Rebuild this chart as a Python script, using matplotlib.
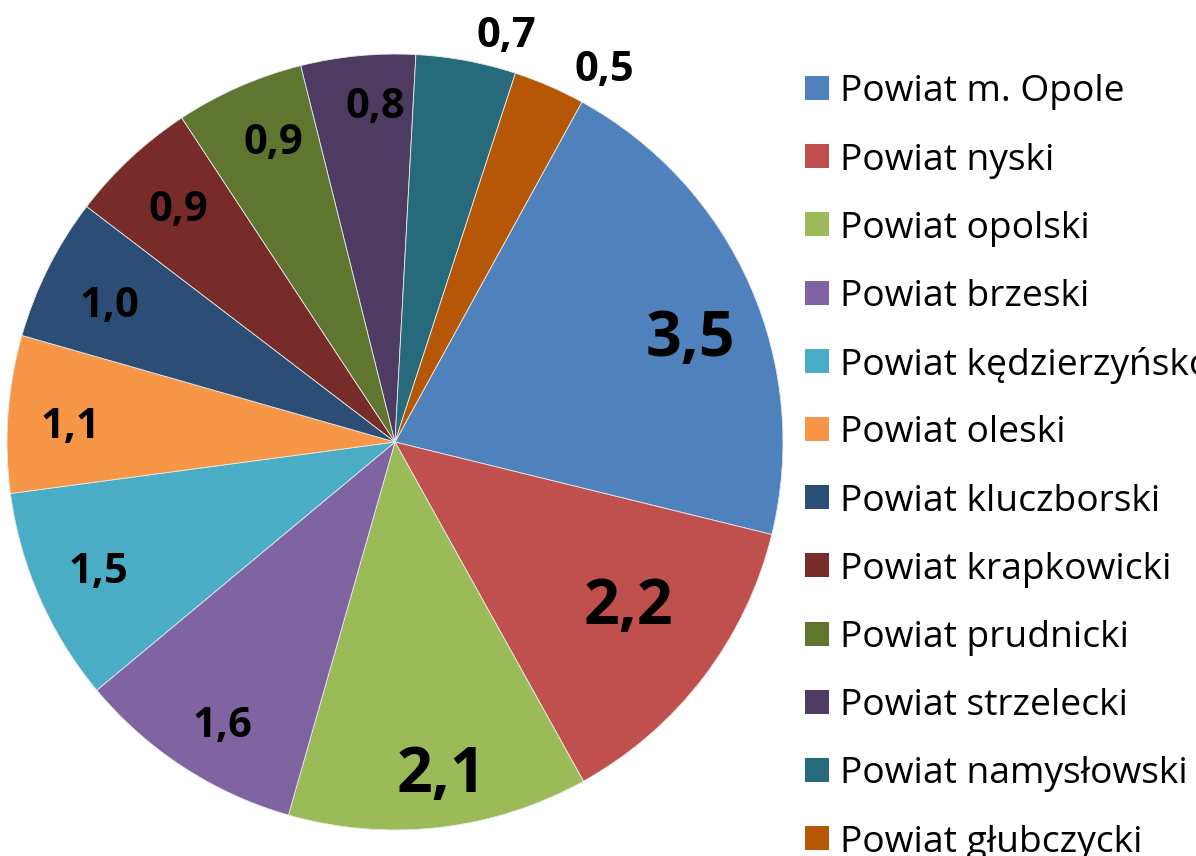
import matplotlib
matplotlib.use("Agg")
import matplotlib.pyplot as plt
import numpy as np
from matplotlib.patches import Rectangle

categories = ["Powiat m. Opole", "Powiat nyski", "Powiat opolski", "Powiat brzeski",
              "Powiat kędzierzyńsko-kozielski", "Powiat oleski", "Powiat kluczborski",
              "Powiat krapkowicki", "Powiat prudnicki", "Powiat strzelecki",
              "Powiat namysłowski", "Powiat głubczycki"]
values = [3.5, 2.2, 2.1, 1.6, 1.5, 1.1, 1.0, 0.9, 0.9, 0.8, 0.7, 0.5]
value_labels = ["3,5", "2,2", "2,1", "1,6", "1,5", "1,1", "1,0", "0,9", "0,9", "0,8", "0,7", "0,5"]
colors = ["#4F81BD", "#C0504D", "#9BBB59", "#8064A2", "#4BACC6", "#F79646",
          "#2C4D75", "#772C2A", "#5F7530", "#4D3B62", "#276A7C", "#B65708"]

# label styling (layout only): radial distance, clockwise angular shift (deg), font size
label_dist = [0.81, 0.73, 0.856, 0.847, 0.829, 0.837, 0.82, 0.826, 0.842, 0.875, 1.095, 1.11]
label_shift = [3.8, -2.8, -1.4, -1.4, 0.7, -0.7, -0.5, 0.4, 1.9, 2.2, 4.6, 5.7]
label_size = [45, 45, 45, 30, 30, 30, 30, 30, 30, 30, 30, 30]

plt.rcParams['font.family'] = ['Open Sans', 'DejaVu Sans']

W, H = 1196, 856
fig = plt.figure(figsize=(W / 100, H / 100), dpi=100)
cx, cy, R = 395, 442, 388
ax = fig.add_axes([(cx - R) / W, (H - cy - R) / H, 2 * R / W, 2 * R / H])
wedges, _ = ax.pie(values, colors=colors, startangle=61.2, counterclock=False,
                   radius=1, wedgeprops=dict(edgecolor="#e8e8e8", linewidth=0.6))
ax.set_xlim(-1, 1)
ax.set_ylim(-1, 1)
ax.set_aspect('equal')
ax.axis('off')

for w, lab, d, sh, s in zip(wedges, value_labels, label_dist, label_shift, label_size):
    ang = np.deg2rad((w.theta1 + w.theta2) / 2 - sh)
    ax.annotate(lab, xy=(d * np.cos(ang), d * np.sin(ang)), xytext=(0, -3.5),
                textcoords='offset points', ha='center', va='center',
                fontsize=s, fontweight='bold', color='black', annotation_clip=False)

# legend
x0 = 805
y0 = 88
step = 68.2
sq = 24
for i, (cat, col) in enumerate(zip(categories, colors)):
    yc = y0 + i * step
    fig.patches.append(Rectangle((x0 / W, (H - yc - sq / 2) / H), sq / W, sq / H,
                                 transform=fig.transFigure, facecolor=col, edgecolor='none'))
    fig.text(840 / W, (H - yc) / H, cat, ha='left', va='center_baseline', fontsize=26.8,
             color='black')

fig.savefig("out.png", dpi=100)
